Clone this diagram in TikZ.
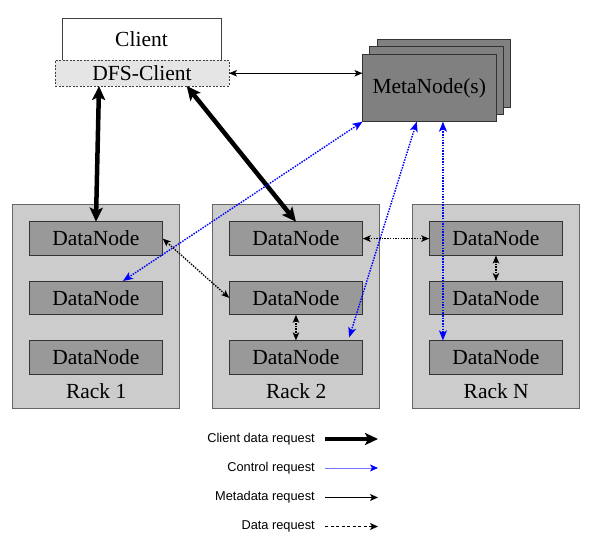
\documentclass[tikz,border=0pt]{standalone}
\usepackage{fontspec}
\setmainfont{Liberation Serif}
\newfontfamily\legendfont{Liberation Sans}
\usetikzlibrary{arrows.meta,calc}
\begin{document}
\begin{tikzpicture}[x=1pt,y=-1pt,
  box/.style={draw=black!75, line width=0.8pt, inner sep=0pt, outer sep=0pt, font=\fontsize{21.5}{24}\selectfont},
  clientbox/.style={box, fill=white, minimum width=159pt, minimum height=42.5pt},
  dfsbox/.style={box, fill=black!10, dashed, dash pattern=on 2pt off 1.5pt, minimum width=174pt, minimum height=25.5pt},
  metabox/.style={box, draw=black!80, fill=black!50, minimum width=133.5pt, minimum height=67.7pt},
  rackbox/.style={box, draw=black!60, fill=black!20, minimum width=167pt, minimum height=203.5pt, anchor=north west},
  dnbox/.style={box, draw=black!80, fill=black!40, minimum width=133.5pt, minimum height=33.8pt, anchor=north west},
  racklabel/.style={font=\fontsize{21.5}{24}\selectfont, inner sep=0pt},
  legendtext/.style={font=\legendfont\fontsize{12.8}{14}\selectfont, anchor=east, inner sep=0pt},
  bigtip/.tip={Stealth[length=14pt,width=13pt,inset=3pt]},
  smalltip/.tip={Stealth[length=8pt,width=6.5pt,inset=2pt]},
  bluetip/.tip={Stealth[length=10pt,width=8pt,inset=2.5pt,blue]},
  clientdata/.style={line width=4.5pt, bigtip-bigtip},
  controlreq/.style={draw=blue, line width=1.4pt, dash pattern=on 1.5pt off 1.2pt, bluetip-bluetip},
  metareq/.style={line width=1pt, smalltip-smalltip},
  datareq/.style={line width=1.3pt, dash pattern=on 1.5pt off 1.2pt, smalltip-smalltip}
]
\useasboundingbox (0,0) rectangle (600,537);

% Client
\node[clientbox] (client) at (141.5,39.25) {\raisebox{-2pt}{Client}};
\node[dfsbox] (dfs) at (142,73.25) {DFS-Client};

% MetaNodes
\node[metabox, anchor=north west] (mb) at (377,39.3) {};
\node[metabox, anchor=north west] (mm) at (369.5,46.7) {};
\node[metabox, anchor=north west] (mf) at (362.5,54) {MetaNode(s)};

% Racks
\foreach \r/\L/\name in {1/12.7/Rack 1, 2/212.7/Rack 2, N/412.7/Rack N}{
  \node[rackbox] (rack\r) at (\L,204.5) {};
  \node[racklabel] (rack\r l) at ([yshift=16.5pt]rack\r.south) {\name};
  \node[dnbox] (r\r a) at (\L+16.5,221.7) {DataNode};
  \node[dnbox] (r\r b) at (\L+16.5,281) {DataNode};
  \node[dnbox] (r\r c) at (\L+16.5,340.4) {DataNode};
}

% Client data requests
\draw[clientdata] ([xshift=-43pt]dfs.south) -- (r1a.north);
\draw[clientdata] ([xshift=44.7pt]dfs.south) -- (r2a.north);

% Metadata request
\draw[metareq] (dfs.east) -- (dfs.east -| mf.west);

% Control requests
\draw[controlreq] (mf.south west) -- ([xshift=27pt]r1b.north);
\draw[controlreq] ([xshift=-12.5pt]mf.south) -- ([xshift=-13.5pt,yshift=3pt]r2c.north east);
\coordinate (mfc) at ([xshift=13.7pt]mf.south);
\draw[controlreq] (mfc) -- (mfc |- rNc.north);

% Data requests
\draw[datareq] (r1a.east) -- (r2b.west);
\draw[datareq] (r2b.south) -- (r2c.north);
\draw[datareq] (r2a.east) -- (rNa.west);
\draw[datareq] (rNa.south) -- (rNb.north);

% Legend
\node[legendtext] (l1) at (315,439) {Client data request};
\node[legendtext] (l2) at (315,468) {Control request};
\node[legendtext] (l3) at (315,497.5) {Metadata request};
\node[legendtext] (l4) at (315,526.5) {Data request};
\coordinate (e1) at (378,439);
\coordinate (e2) at (378,468);
\coordinate (e3) at (378,497.5);
\coordinate (e4) at (378,526.5);
\draw[line width=3.5pt, -{Stealth[length=13pt,width=12pt,inset=3pt]}] ([xshift=10pt]l1.east) -- (e1);
\draw[line width=0.8pt, draw=blue!55, -{Stealth[length=8pt,width=7pt,inset=2pt,blue]}] ([xshift=10pt]l2.east) -- (e2);
\draw[line width=1pt, -{Stealth[length=8pt,width=7pt,inset=2pt]}] ([xshift=10pt]l3.east) -- (e3);
\draw[line width=1pt, dash pattern=on 3pt off 2.5pt, -{Stealth[length=8pt,width=7pt,inset=2pt]}] ([xshift=10pt]l4.east) -- (e4);
\end{tikzpicture}
\end{document}
